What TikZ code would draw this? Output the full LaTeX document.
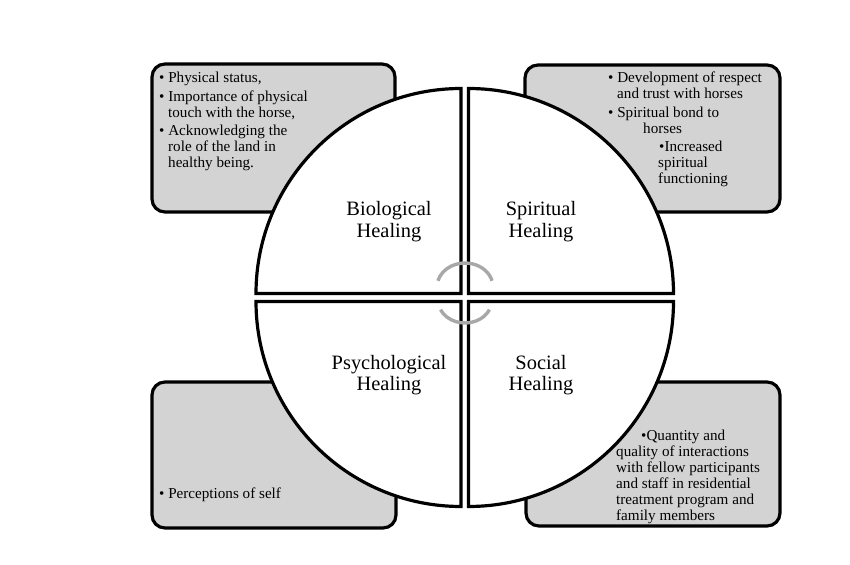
\documentclass[tikz,border=0pt]{standalone}
\usepackage{fontspec}
\setmainfont{Liberation Serif}
\usepackage{xcolor}
\definecolor{BoxGray}{HTML}{D3D3D3}
\definecolor{CycleGray}{HTML}{A8A8A8}
\tikzset{
    % Box styles - grey notes behind the circle
    notebox/.style={
        draw=black,
        fill=BoxGray,
        line width=3.2pt,
        rounded corners=13pt
    },
    quadrant/.style={
        draw=black,
        fill=white,
        line width=3.2pt,
        line join=miter
    },
    % Text styles
    healing/.style={
        font=\fontsize{20.5}{22}\selectfont,
        anchor=base,
        inner sep=0pt
    },
    note/.style={
        font=\fontsize{15.2}{16}\selectfont,
        anchor=base west,
        inner sep=0pt
    },
    % Cycle arcs in the middle
    cyclearc/.style={
        draw=CycleGray,
        line width=3.4pt
    }
}
\begin{document}
\begin{tikzpicture}[x=1bp, y=-1bp]
    \useasboundingbox (0,0) rectangle (850,565);

    % grey boxes
    \draw[notebox] (152,64) rectangle (395,212);
    \draw[notebox] (525,65) rectangle (780,212);
    \draw[notebox] (152,382) rectangle (396,528);
    \draw[notebox] (526,382) rectangle (780,526);

    % four quarters of the circle
    \draw[quadrant] (461,293.5) -- (461,88.5) arc[start angle=-90, end angle=-180, radius=205] -- cycle;
    \draw[quadrant] (468.5,293.5) -- (468.5,88.5) arc[start angle=-90, end angle=0, radius=205] -- cycle;
    \draw[quadrant] (461,301.5) -- (461,506.5) arc[start angle=90, end angle=180, radius=205] -- cycle;
    \draw[quadrant] (468.5,301.5) -- (468.5,506.5) arc[start angle=90, end angle=0, radius=205] -- cycle;

    \draw[cyclearc] (465,287) ++(-165:28 and 24) arc[start angle=-165, end angle=-15, x radius=28, y radius=24];
    \draw[cyclearc] (465,300) ++(155:27 and 23) arc[start angle=155, end angle=25, x radius=27, y radius=23];

    \node[healing] (bio1) at (389,216) {Biological};
    \node[healing] (bio2) at (389,238) {Healing};
    \node[healing] (spi1) at (541,216) {Spiritual};
    \node[healing] (spi2) at (541,238) {Healing};
    \node[healing] (psy1) at (389,369) {Psychological};
    \node[healing] (psy2) at (389,390) {Healing};
    \node[healing] (soc1) at (541,369) {Social};
    \node[healing] (soc2) at (541,390) {Healing};

    % biological notes
    \node[note] (b1) at (159,83) {\textbullet\ Physical status,};
    \node[note] (b2) at (159,102) {\textbullet\ Importance of physical};
    \node[note] (b3) at (168,118) {touch with the horse,};
    \node[note] (b4) at (159,136) {\textbullet\ Acknowledging the};
    \node[note] (b5) at (168,152) {role of the land in};
    \node[note] (b6) at (168,168) {healthy being.};

    % spiritual notes
    \node[note] (s1) at (608,83) {\textbullet\ Development of respect};
    \node[note] (s2) at (617,99) {and trust with horses};
    \node[note] (s3) at (608,118) {\textbullet\ Spiritual bond to};
    \node[note] (s4) at (643,134) {horses};
    \node[note] (s5) at (659,152) {\textbullet Increased};
    \node[note] (s6) at (658,168) {spiritual};
    \node[note] (s7) at (658,184) {functioning};

    % psychological notes
    \node[note] (p1) at (159,498) {\textbullet\ Perceptions of self};

    % social notes
    \node[note] (o1) at (641,440) {\textbullet Quantity and};
    \node[note] (o2) at (616,456) {quality of interactions};
    \node[note] (o3) at (616,472) {with fellow participants};
    \node[note] (o4) at (616,488) {and staff in residential};
    \node[note] (o5) at (616,504) {treatment program and};
    \node[note] (o6) at (616,520) {family members};
\end{tikzpicture}
\end{document}
